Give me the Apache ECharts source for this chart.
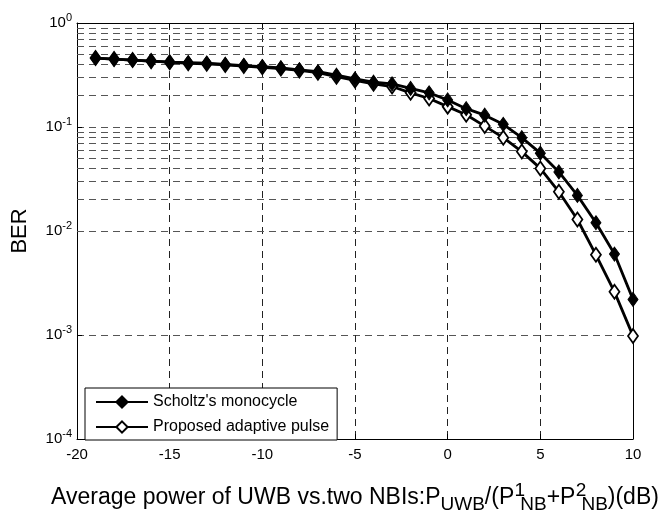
<!DOCTYPE html>
<html>
<head>
<meta charset="utf-8">
<script src="https://cdn.jsdelivr.net/npm/echarts@6/dist/echarts.min.js"></script>
<style>
  html, body { margin: 0; padding: 0; background: #fff; }
  #chart { width: 668px; height: 519px; }
</style>
</head>
<body>
<div id="chart"></div>
<script>
// SNR axis (dB)
const snr = [-19, -18, -17, -16, -15, -14, -13, -12, -11, -10,
             -9, -8, -7, -6, -5, -4, -3, -2, -1, 0,
             1, 2, 3, 4, 5, 6, 7, 8, 9, 10];
// BER, Scholtz's monocycle
const berScholtz = [0.46, 0.45, 0.44, 0.43, 0.42, 0.415, 0.41, 0.40, 0.39, 0.38,
                    0.37, 0.355, 0.34, 0.315, 0.29, 0.27, 0.26, 0.235, 0.213, 0.182,
                    0.15, 0.13, 0.106, 0.079, 0.056, 0.037, 0.022, 0.012, 0.006, 0.0022];
// BER, proposed adaptive pulse
const berAdaptive = [0.46, 0.45, 0.44, 0.43, 0.42, 0.41, 0.405, 0.395, 0.385, 0.375,
                     0.365, 0.35, 0.333, 0.305, 0.28, 0.26, 0.245, 0.213, 0.188, 0.157,
                     0.131, 0.102, 0.079, 0.058, 0.040, 0.0238, 0.0129, 0.0059, 0.0026, 0.00098];
// minor log grid positions
const decades = [-4, -3, -2, -1];
const minorMult = [2, 3, 4, 5, 6, 7, 8, 9];

const minorLines = [];
decades.forEach(d => minorMult.forEach(m => minorLines.push({ yAxis: m * Math.pow(10, d) })));

const FONT = 'Liberation Sans';
const vDash = { color: '#222', width: 1, type: [7, 5] };
const hDash = { color: '#555', width: 1, type: [7, 5] };

const chart = echarts.init(document.getElementById('chart'));
chart.setOption({
    animation: false,
    textStyle: { fontFamily: FONT, color: '#000' },
    grid: { left: 77, right: 35, top: 23, bottom: 72 },
    legend: {
        orient: 'vertical',
        left: 85, top: 388,
        backgroundColor: '#fff',
        borderColor: '#000', borderWidth: 1,
        padding: [6, 8, 5, 10],
        itemWidth: 52, itemHeight: 14, itemGap: 9,
        textStyle: { fontFamily: FONT, fontSize: 16, color: '#000' },
        data: ["Scholtz's monocycle", 'Proposed adaptive pulse']
    },
    xAxis: [{
        type: 'value', min: -20, max: 10, interval: 5,
        axisLine: { lineStyle: { color: '#000' } },
        axisTick: { inside: true, length: 5, lineStyle: { color: '#000' } },
        axisLabel: { fontSize: 15, color: '#000', margin: 8 },
        splitLine: { show: true, lineStyle: vDash },
        name: 'Average power of UWB vs.two NBIs:P{sub|UWB}/(P{sup|1}{sub|NB}+P{sup|2}{sub|NB})(dB)',
        nameLocation: 'middle', nameGap: 42,
        nameTextStyle: {
            fontSize: 23, color: '#000',
            rich: {
                sub: { fontSize: 19, padding: [14, 0, 0, 0] },
                sup: { fontSize: 19, padding: [0, 0, 14, 5], width: 1 }
            }
        }
    }, {
        type: 'value', min: -20, max: 10, interval: 5, position: 'top',
        axisLine: { lineStyle: { color: '#000' } },
        axisTick: { inside: true, length: 5, lineStyle: { color: '#000' } },
        axisLabel: { show: false }, splitLine: { show: false }
    }],
    yAxis: [{
        type: 'log', min: 1e-4, max: 1, logBase: 10,
        axisLine: { show: true, onZero: false, lineStyle: { color: '#000' } },
        axisTick: { show: true, inside: true, length: 5, lineStyle: { color: '#000' } },
        axisLabel: {
            color: '#000', margin: 5,
            formatter: v => '{b|10}{s|' + Math.round(Math.log10(v)) + '}',
            rich: {
                b: { fontSize: 15, fontFamily: FONT },
                s: { fontSize: 11, fontFamily: FONT, padding: [0, 0, 11, 0] }
            }
        },
        splitLine: { show: true, lineStyle: hDash },
        name: 'BER', nameLocation: 'middle', nameGap: 46, nameRotate: 90,
        nameTextStyle: { fontSize: 22, color: '#000' }
    }, {
        type: 'log', min: 1e-4, max: 1, logBase: 10, position: 'right',
        axisLine: { show: true, onZero: false, lineStyle: { color: '#000' } },
        axisTick: { show: true, inside: true, length: 5, lineStyle: { color: '#000' } },
        axisLabel: { show: false }, splitLine: { show: false }
    }],
    series: [{
        name: "Scholtz's monocycle",
        type: 'line',
        data: snr.map((x, i) => [x, berScholtz[i]]),
        symbol: 'diamond', symbolSize: [10, 14],
        itemStyle: { color: '#000', borderColor: '#000', borderWidth: 1 },
        lineStyle: { color: '#000', width: 2.8 },
        z: 4,
        markLine: {
            silent: true, symbol: ['none', 'none'],
            label: { show: false },
            lineStyle: hDash,
            z: 1,
            data: minorLines
        }
    }, {
        name: 'Proposed adaptive pulse',
        type: 'line',
        data: snr.map((x, i) => [x, berAdaptive[i]]),
        symbol: 'diamond', symbolSize: [10, 14],
        itemStyle: { color: '#fff', borderColor: '#000', borderWidth: 1.8 },
        lineStyle: { color: '#000', width: 2.8 },
        z: 3
    }]
});
</script>
</body>
</html>
